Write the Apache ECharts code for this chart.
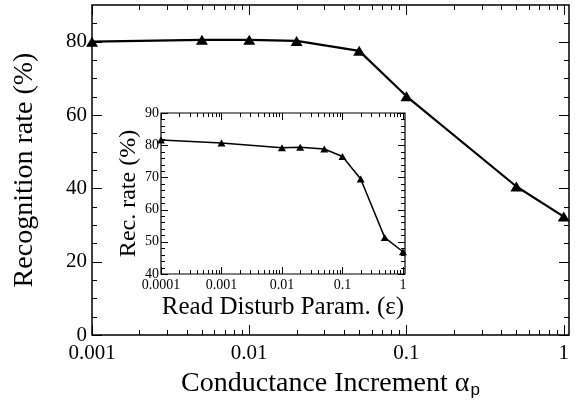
<!DOCTYPE html>
<html><head><meta charset="utf-8">
<script src="https://cdn.jsdelivr.net/npm/echarts@6/dist/echarts.min.js"></script>
<style>html,body{margin:0;padding:0;background:#fff}#c{width:580px;height:405px}</style>
</head><body><div id="c"></div>
<script>
// Main chart data
const mainX = [0.001, 0.005, 0.01, 0.02, 0.05, 0.1, 0.5, 1];
const mainY = [80.0, 80.5, 80.5, 80.2, 77.5, 65.1, 40.5, 32.3];
// Inset data
const insetX = [0.0001, 0.001, 0.01, 0.02, 0.05, 0.1, 0.2, 0.5, 1];
const insetY = [81.6, 80.7, 79.2, 79.4, 78.8, 76.5, 69.5, 51.3, 46.9];
// Tick labels
const mainXTicks = [0.001, 0.01, 0.1, 1];
const mainYTicks = [0, 20, 40, 60, 80];
const insetXTicks = [0.0001, 0.001, 0.01, 0.1, 1];
const insetYTicks = [40, 50, 60, 70, 80, 90];

function minorLog(lo, hi) {
  const out = [];
  for (let d = lo; d < hi * 0.999; d *= 10) for (let k = 2; k <= 9; k++) out.push(+(k * d).toPrecision(3));
  return out;
}
function steps(a, b, s) { const o = []; for (let v = a; v <= b + 1e-9; v += s) o.push(+v.toFixed(6)); return o; }
function pick(list) {
  return function (v) {
    for (const t of list) if (Math.abs(v - t) <= Math.abs(t) * 1e-6 + 1e-12) return String(t);
    return '';
  };
}

const SERIF = 'Liberation Serif';
const black = '#000';

const chart = echarts.init(document.getElementById('c'));
chart.setOption({
  backgroundColor: '#fff',
  animation: false,
  grid: [
    { left: 92, top: 5, width: 477, height: 330, show: true, borderColor: black, borderWidth: 1.5, backgroundColor: 'transparent' },
    { left: 161, top: 113, width: 244, height: 161, show: true, borderColor: black, borderWidth: 1.2, backgroundColor: 'transparent' }
  ],
  xAxis: [
    { type: 'log', gridIndex: 0, min: 0.001, max: 1.08,
      axisLine: { show: false }, axisTick: { show: false }, splitLine: { show: false },
      axisLabel: { formatter: pick(mainXTicks), color: black, fontFamily: SERIF, fontSize: 21, margin: 8 },
      name: 'Conductance Increment α{p|p}', nameLocation: 'middle', nameGap: 33,
      nameTextStyle: { color: black, fontFamily: SERIF, fontSize: 28,
        rich: { p: { fontFamily: 'Liberation Sans', fontSize: 17, color: black, padding: [14, 0, 0, 1], verticalAlign: 'bottom' } } } },
    { type: 'log', gridIndex: 1, min: 0.0001, max: 1.08,
      axisLine: { show: false }, axisTick: { show: false }, splitLine: { show: false },
      axisLabel: { formatter: pick(insetXTicks), color: black, fontFamily: SERIF, fontSize: 14, margin: 4 },
      name: 'Read Disturb Param. (ε)', nameLocation: 'middle', nameGap: 21,
      nameTextStyle: { color: black, fontFamily: SERIF, fontSize: 25 } }
  ],
  yAxis: [
    { type: 'value', gridIndex: 0, min: 0, max: 90, interval: 20,
      axisLine: { show: false }, axisTick: { show: false }, splitLine: { show: false },
      axisLabel: { formatter: pick(mainYTicks), color: black, fontFamily: SERIF, fontSize: 21, margin: 5 },
      name: 'Recognition rate (%)', nameLocation: 'middle', nameGap: 53,
      nameTextStyle: { color: black, fontFamily: SERIF, fontSize: 28 } },
    { type: 'value', gridIndex: 1, min: 40, max: 90, interval: 10,
      axisLine: { show: false }, axisTick: { show: false }, splitLine: { show: false },
      axisLabel: { formatter: pick(insetYTicks), color: black, fontFamily: SERIF, fontSize: 14, margin: 2 },
      name: 'Rec. rate (%)', nameLocation: 'middle', nameGap: 20,
      nameTextStyle: { color: black, fontFamily: SERIF, fontSize: 24 } }
  ],
  series: [
    { type: 'line', xAxisIndex: 0, yAxisIndex: 0, data: mainX.map((x, i) => [x, mainY[i]]),
      symbol: 'triangle', symbolSize: [12, 10], showSymbol: true,
      lineStyle: { color: black, width: 2.2 }, itemStyle: { color: black } },
    { type: 'line', xAxisIndex: 1, yAxisIndex: 1, data: insetX.map((x, i) => [x, insetY[i]]),
      symbol: 'triangle', symbolSize: [8, 7], showSymbol: true,
      lineStyle: { color: black, width: 1.5 }, itemStyle: { color: black } }
  ]
});

// Inward tick marks, positioned through the chart's own axis scales
const tickEls = [];
function addTicks(idx, xMaj, xMin, yMaj, yMin, xLo, xHi, yLo, yHi, majLen, minLen) {
  const finder = { xAxisIndex: idx, yAxisIndex: idx };
  const px = (x, y) => chart.convertToPixel(finder, [x, y]);
  const vTick = (x, len) => {
    const b = px(x, yLo), t = px(x, yHi);
    if (!b || !t) return;
    const cx = Math.round(b[0]) + 0.5;
    tickEls.push({ type: 'line', silent: true, z: 100, shape: { x1: cx, y1: b[1], x2: cx, y2: b[1] - len }, style: { stroke: black, lineWidth: 1 } });
    tickEls.push({ type: 'line', silent: true, z: 100, shape: { x1: cx, y1: t[1], x2: cx, y2: t[1] + len }, style: { stroke: black, lineWidth: 1 } });
  };
  const hTick = (y, len) => {
    const l = px(xLo, y), r = px(xHi, y);
    if (!l || !r) return;
    const cy = Math.round(l[1]) + 0.5;
    tickEls.push({ type: 'line', silent: true, z: 100, shape: { x1: l[0], y1: cy, x2: l[0] + len, y2: cy }, style: { stroke: black, lineWidth: 1 } });
    tickEls.push({ type: 'line', silent: true, z: 100, shape: { x1: r[0], y1: cy, x2: r[0] - len, y2: cy }, style: { stroke: black, lineWidth: 1 } });
  };
  xMaj.forEach(v => vTick(v, majLen));
  xMin.forEach(v => vTick(v, minLen));
  yMaj.forEach(v => hTick(v, majLen));
  yMin.forEach(v => hTick(v, minLen));
}
addTicks(0, mainXTicks, minorLog(0.001, 1), mainYTicks, steps(5, 85, 5).filter(v => v % 20), 0.001, 1.08, 0, 90, 10, 5);
addTicks(1, insetXTicks, minorLog(0.0001, 1), insetYTicks, steps(42, 88, 2).filter(v => v % 10), 0.0001, 1.08, 40, 90, 7, 4);
chart.setOption({ graphic: { elements: tickEls } });
</script></body></html>
